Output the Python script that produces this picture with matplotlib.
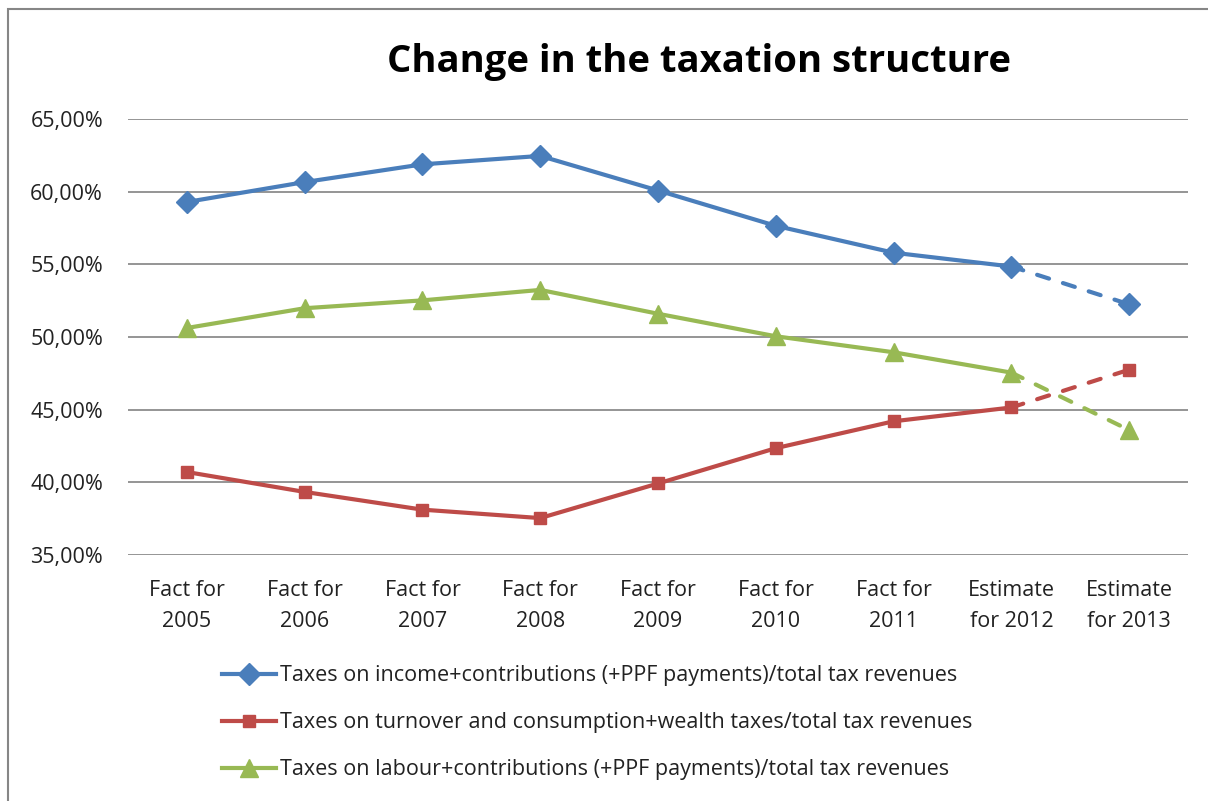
import matplotlib
matplotlib.use("Agg")
import matplotlib.pyplot as plt
from matplotlib.lines import Line2D
from matplotlib.patches import Rectangle
from matplotlib.ticker import FuncFormatter

plt.rcParams['font.family'] = ['Open Sans', 'DejaVu Sans']

# Chart data (shares of total tax revenues, %)
categories = ["Fact for\n2005", "Fact for\n2006", "Fact for\n2007", "Fact for\n2008",
              "Fact for\n2009", "Fact for\n2010", "Fact for\n2011",
              "Estimate\nfor 2012", "Estimate\nfor 2013"]
income_share = [59.29, 60.66, 61.88, 62.46, 60.08, 57.65, 55.80, 54.85, 52.25]
turnover_share = [40.71, 39.34, 38.12, 37.54, 39.92, 42.35, 44.20, 45.15, 47.75]
labour_share = [50.62, 51.98, 52.52, 53.24, 51.60, 50.05, 48.95, 47.55, 43.60]

labels = ["Taxes on income+contributions (+PPF payments)/total tax revenues",
          "Taxes on turnover and consumption+wealth taxes/total tax revenues",
          "Taxes on labour+contributions (+PPF payments)/total tax revenues"]
colors = ["#4A7EBB", "#BE4B48", "#98B954"]
markers = ["D", "s", "^"]
msizes = [11, 8.5, 13]

fig = plt.figure(figsize=(12.08, 8.01), dpi=100)
ax = fig.add_axes([128 / 1208, 1 - 555 / 801, 1060 / 1208, 436 / 801])

x = list(range(len(categories)))
n_fact = 8  # solid up to estimate 2012, dashed after
for vals, c, m, ms in zip([income_share, turnover_share, labour_share], colors, markers, msizes):
    ax.plot(x[:n_fact], vals[:n_fact], color=c, lw=3, solid_capstyle='round', zorder=3)
    ax.plot(x[n_fact - 1:], vals[n_fact - 1:], color=c, lw=3, ls=(0, (3, 3.5)),
            dash_capstyle='round', zorder=3)
    ax.plot(x, vals, ls='none', marker=m, color=c, ms=ms, zorder=4)

ax.set_xlim(-0.5, len(categories) - 0.5)
ax.set_ylim(35, 65)
ax.set_yticks([35, 40, 45, 50, 55, 60, 65])
ax.yaxis.set_major_formatter(FuncFormatter(lambda v, p: f"{v:.2f}%".replace(".", ",")))
ax.set_xticks(x)
ax.set_xticklabels(categories, linespacing=1.6)
ax.tick_params(axis='y', length=0, pad=18, labelsize=15.5, labelcolor='#222222')
ax.tick_params(axis='x', length=0, pad=18, labelsize=15.5, labelcolor='#222222')
ax.grid(axis='y', color='#8C8C8C', lw=1.3)
ax.set_axisbelow(True)
for s in ax.spines.values():
    s.set_visible(False)

fig.text(699 / 1208, 1 - 62 / 801, "Change in the taxation structure",
         ha='center', va='center', fontsize=27.5, fontweight='bold')

handles = [Line2D([], [], color=c, lw=3, marker=m, ms=ms)
           for c, m, ms in zip(colors, markers, msizes)]
fig.legend(handles, labels, loc='upper left', bbox_to_anchor=(203 / 1208, 1 - 646 / 801),
           frameon=False, fontsize=15.5, handlelength=2.5, handletextpad=0.2,
           labelspacing=1.2, labelcolor='#222222')

# chart frame (cut off on the right and bottom)
fig.patches.append(Rectangle((8 / 1208, -0.1), 1.2, 1.1 - 9 / 801,
                             transform=fig.transFigure, fill=False,
                             edgecolor='#868686', lw=1.5))

fig.savefig("out.png", dpi=100)
